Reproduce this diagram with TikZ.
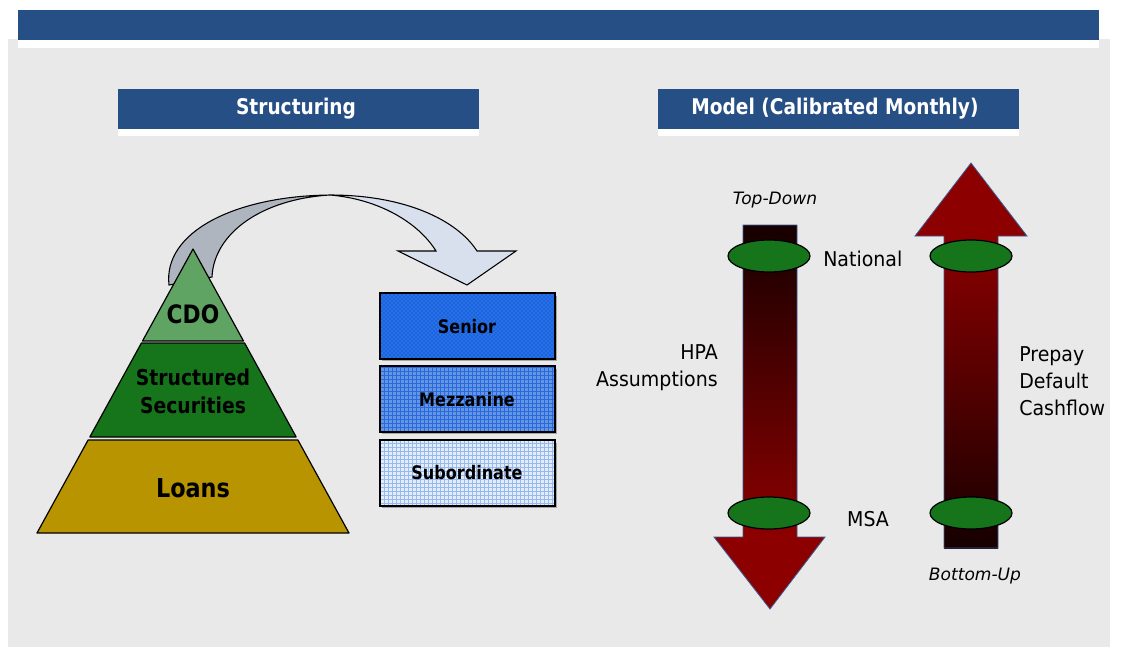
\documentclass[tikz,border=0pt]{standalone}
\usepackage{fontspec}
\setmainfont{DejaVu Sans}[UprightFeatures={FakeStretch=0.93},BoldFeatures={FakeStretch=0.86}]
\usetikzlibrary{patterns}

\definecolor{panelgray}{RGB}{233,233,233}
\definecolor{barblue}{RGB}{38,79,133}
\definecolor{cdogreen}{RGB}{95,164,99}
\definecolor{secgreen}{RGB}{22,117,27}
\definecolor{loangold}{RGB}{183,148,0}
\definecolor{backgrey}{RGB}{174,181,190}
\definecolor{frontblue}{RGB}{215,224,236}
\definecolor{arrowred}{RGB}{140,0,0}
\definecolor{arrowdark}{RGB}{22,0,0}
\definecolor{arrowedge}{RGB}{60,90,150}

\begin{document}
\begin{tikzpicture}[x=0.75pt,y=0.75pt,yscale=-1,xscale=1,
  layer/.style={draw=black,line width=0.9pt,line join=round},
  tranche/.style={draw=black,line width=0.8pt},
  head/.style={inner sep=0pt,text=white,font=\bfseries\fontsize{16.2}{19}\selectfont},
  tag/.style={inner sep=0pt,font=\fontsize{15.3}{20.3}\selectfont},
  ring/.style={fill=secgreen,draw=black,line width=0.9pt},
  bigarrow/.style={draw=arrowedge,line width=0.6pt,line join=miter}]
\path[use as bounding box,fill=white] (0,0) rectangle (1121,647);

%Shape: Rectangle (panel)
\fill[panelgray] (8,39) rectangle (1110,647);
%Shape: Rectangle (title bar)
\fill[barblue] (18,10) rectangle (1099,40);
\fill[white] (18,40) rectangle (1099,48);
%Shape: Rectangle (section heads)
\fill[barblue] (118,89) rectangle (479,129);
\fill[white] (118,129) rectangle (479,136);
\fill[barblue] (658,89) rectangle (1019,129);
\fill[white] (658,129) rectangle (1019,136);

%Shape: Curved Arrow (back half)
\draw[fill=backgrey,line width=0.8pt] (169,285) .. controls (163,232) and (235,196) .. (330,195)
  .. controls (262,199) and (214,233) .. (212,277) -- cycle;
%Shape: Curved Arrow (front half)
\draw[fill=frontblue,line width=0.8pt,line join=miter] (330,195) .. controls (405,195) and (457,220) .. (477,251)
  -- (516,251) -- (467,285) -- (398,251) -- (436,251)
  .. controls (418,222) and (378,199) .. (330,195) -- cycle;

%Shape: Triangle (pyramid layers)
\draw[layer,fill=loangold] (88.1,440) -- (297.9,440) -- (349,533) -- (37,533) -- cycle;
\draw[layer,fill=secgreen] (141.4,343) -- (244.6,343) -- (296.2,437) -- (89.8,437) -- cycle;
\draw[layer,fill=cdogreen] (193,249) -- (243.5,341) -- (142.5,341) -- cycle;

%Shape: Rectangle (tranches)
\fill[black!35] (382,296) rectangle (557,361);
\draw[tranche,fill={rgb,255:red,25;green,100;blue,225}] (380,293) rectangle (555,359);
\fill[pattern=crosshatch dots,pattern color={rgb,255:red,100;green,155;blue,240}] (380,293) rectangle (555,359);
\draw[tranche] (380,293) rectangle (555,359);
\fill[black!35] (382,369) rectangle (557,434);
\draw[tranche,fill={rgb,255:red,100;green,150;blue,228}] (380,366) rectangle (555,432);
\fill[pattern=grid,pattern color={rgb,255:red,40;green,105;blue,222}] (380,366) rectangle (555,432);
\draw[tranche] (380,366) rectangle (555,432);
\fill[black!35] (382,443) rectangle (557,508);
\draw[tranche,fill={rgb,255:red,228;green,235;blue,249}] (380,440) rectangle (555,506);
\fill[pattern=grid,pattern color={rgb,255:red,150;green,185;blue,238}] (380,440) rectangle (555,506);
\draw[tranche] (380,440) rectangle (555,506);

%Shape: Down Arrow (top-down)
\shade[top color=arrowdark,bottom color=arrowred] (743,225) rectangle (797,537);
\fill[arrowred] (714,537) -- (825,537) -- (770,609) -- cycle;
\draw[bigarrow] (743,225) -- (797,225) -- (797,537) -- (825,537) -- (770,609) -- (714,537) -- (743,537) -- cycle;
%Shape: Up Arrow (bottom-up)
\shade[top color=arrowred,bottom color=arrowdark] (944,236) rectangle (998,548);
\fill[arrowred] (915,236) -- (1027,236) -- (971,163) -- cycle;
\draw[bigarrow] (944,548) -- (998,548) -- (998,236) -- (1027,236) -- (971,163) -- (915,236) -- (944,236) -- cycle;

%Shape: Ellipse (levels)
\draw[ring] (769,256) ellipse [x radius=41,y radius=16];
\draw[ring] (769,513) ellipse [x radius=41,y radius=16];
\draw[ring] (971,256) ellipse [x radius=41,y radius=16];
\draw[ring] (971,513) ellipse [x radius=41,y radius=16];

% Text Node
\node[head] (structhead) at (296,109) {Structuring};
% Text Node
\node[head] (modelhead) at (835,109) {Model (Calibrated Monthly)};
% Text Node
\node[inner sep=0pt,font=\bfseries\fontsize{19}{22}\selectfont] (cdo) at (193,314) {CDO};
% Text Node
\node[inner sep=0pt,align=center,font=\bfseries\fontsize{16.4}{21}\selectfont] (secs) at (193,391) {Structured\\Securities};
% Text Node
\node[inner sep=0pt,font=\bfseries\fontsize{19.5}{22}\selectfont] (loans) at (193,488) {Loans};
% Text Node
\node[inner sep=0pt,font=\bfseries\fontsize{14}{16}\selectfont] (senior) at (467,327) {Senior};
% Text Node
\node[inner sep=0pt,font=\bfseries\fontsize{14}{16}\selectfont] (mezz) at (467,400) {Mezzanine};
% Text Node
\node[inner sep=0pt,font=\bfseries\fontsize{14}{16}\selectfont] (sub) at (467,473) {Subordinate};
% Text Node
\node[inner sep=0pt,font=\itshape\fontsize{12.8}{15}\selectfont] (topdown) at (775,200) {Top-Down};
% Text Node
\node[inner sep=0pt,font=\itshape\fontsize{12.8}{15}\selectfont] (bottomup) at (975,576) {Bottom-Up};
% Text Node
\node[tag,anchor=west] (national) at (823,259) {National};
% Text Node
\node[tag] (msa) at (868,519) {MSA};
% Text Node
\node[tag,anchor=east,align=right] (hpa) at (718,368) {HPA\\Assumptions};
% Text Node
\node[tag,anchor=west,align=left] (prepay) at (1019,381) {Prepay\\Default\\Cashflow};

\end{tikzpicture}
\end{document}
